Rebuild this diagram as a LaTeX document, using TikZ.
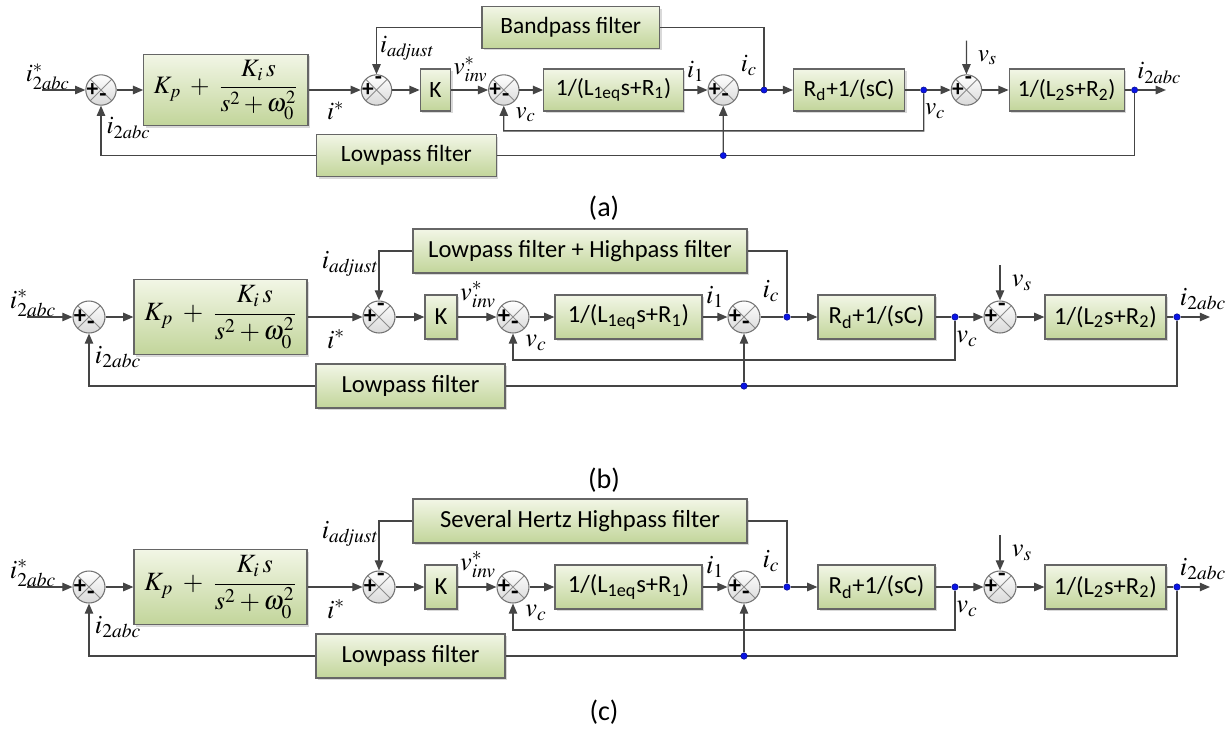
\documentclass[tikz,border=0pt]{standalone}
\usepackage{mathptmx}
\usepackage[no-math]{fontspec}
\setmainfont{Carlito}
\usetikzlibrary{arrows.meta,shadows}

\definecolor{wirec}{HTML}{454545}
\definecolor{boxtop}{HTML}{F2F6E6}
\definecolor{boxbot}{HTML}{C2D59A}
\definecolor{dotc}{HTML}{0A14E6}

\tikzset{
  wire/.style={draw=wirec, line width=0.75pt},
  sig/.style={wire, -{Triangle[length=5.8pt,width=4.8pt]}},
  blk/.style={draw=black!60, line width=0.7pt, top color=boxtop, bottom color=boxbot,
    inner sep=0pt, minimum height=0.88cm, font=\fontsize{14}{16}\selectfont,
    drop shadow={shadow xshift=1.2pt, shadow yshift=-1.2pt, opacity=0.3}},
  sgn/.style={font=\bfseries\fontsize{14}{14}\selectfont, inner sep=0pt},
  sumj/.style={circle, draw=black!55, line width=0.6pt, top color=white, bottom color=black!15,
    minimum size=0.64cm, inner sep=0pt,
    path picture={
      \draw[black!45, line width=0.5pt]
        (path picture bounding box.north west) -- (path picture bounding box.south east)
        (path picture bounding box.north east) -- (path picture bounding box.south west);
      \node[sgn] at ([xshift=-0.18cm]path picture bounding box.center) {+};
      \node[sgn] at ([xshift=0.04cm,yshift=#1]path picture bounding box.center) {-};
    }},
  jdot/.style={circle, fill=dotc, draw=dotc!60!black, line width=0.3pt,
    minimum size=0.13cm, inner sep=0pt},
  lbl/.style={font=\fontsize{15}{18}\selectfont, inner sep=0pt},
  capt/.style={font=\fontsize{16}{19}\selectfont, inner sep=0pt}
}

% one current loop: prefix, filter x, filter width, filter text, i_adjust label position
\newcommand{\regloop}[5]{%
  % forward path
  \coordinate (#1in) at (27,0);
  \node[sumj=-0.16cm] (#1s1) at (89,0) {};
  \node[blk, minimum width=3.46cm, minimum height=1.5cm, font=\fontsize{15}{18}\selectfont] (#1pr) at (220.5,0)
    {$\displaystyle K_{p}\;+\;\frac{K_{i}\,s}{s^{2}+\omega_{0}^{2}}$};
  \node[sumj=0.2cm] (#1s2) at (379,0) {};
  \node[blk, minimum width=0.64cm] (#1k) at (441,0) {K};
  \node[sumj=-0.16cm] (#1s3) at (513,0) {};
  \node[blk, minimum width=2.94cm] (#1g1) at (628.5,0) {1/(L\textsubscript{1eq}s+R\textsubscript{1})};
  \node[sumj=-0.16cm] (#1s4) at (744,0) {};
  \node[jdot] (#1ic) at (787,0) {};
  \node[blk, minimum width=2.34cm] (#1rd) at (876.5,0) {R\textsubscript{d}+1/(sC)};
  \node[jdot] (#1vc) at (955,0) {};
  \node[sumj=0.2cm] (#1s5) at (1000,0) {};
  \coordinate (#1vs) at (1000,-52);
  \node[blk, minimum width=2.42cm] (#1g2) at (1105.5,0) {1/(L\textsubscript{2}s+R\textsubscript{2})};
  \node[jdot] (#1io) at (1177,0) {};
  \coordinate (#1out) at (1210,0);
  % feedback blocks
  \node[blk, minimum width=#3] (#1hf) at (#2,-66) {#4};
  \node[blk, minimum width=3.78cm] (#1lp) at (410.5,69) {Lowpass filter};
  \coordinate (#1vcd) at (955,43);
  % connectors
  \draw[sig] (#1in) -- (#1s1);
  \draw[sig] (#1s1) -- (#1pr);
  \draw[sig] (#1pr) -- (#1s2);
  \draw[sig] (#1s2) -- (#1k);
  \draw[sig] (#1k) -- (#1s3);
  \draw[sig] (#1s3) -- (#1g1);
  \draw[sig] (#1g1) -- (#1s4);
  \draw[wire] (#1s4) -- (#1ic);
  \draw[sig] (#1ic) -- (#1rd);
  \draw[wire] (#1rd) -- (#1vc);
  \draw[sig] (#1vc) -- (#1s5);
  \draw[sig] (#1vs) -- (#1s5);
  \draw[sig] (#1s5) -- (#1g2);
  \draw[wire] (#1g2) -- (#1io);
  \draw[sig] (#1io) -- (#1out);
  \draw[wire] (#1ic) |- (#1hf);
  \draw[sig] (#1hf) -| (#1s2);
  \draw[sig] (#1vc) -- (#1vcd) -| (#1s3);
  \draw[wire] (#1io) |- (#1lp);
  \draw[sig] (#1lp) -| (#1s1);
  \node[jdot] (#1jn) at (744,69) {};
  \draw[sig] (#1jn) -- (#1s4);
  % signals
  \node[lbl] (#1lref) at (33,-14) {$i^{*}_{2abc}$};
  \node[lbl] (#1lfb) at (118,40) {$i_{2abc}$};
  \node[lbl] (#1lis) at (336,22) {$i^{*}$};
  \node[lbl] (#1ladj) at (#5) {$i_{\mathit{adjust}}$};
  \node[lbl] (#1linv) at (478,-22) {$v^{*}_{\mathit{inv}}$};
  \node[lbl] (#1lvca) at (536,26) {$v_{c}$};
  \node[lbl] (#1li1) at (715,-20) {$i_{1}$};
  \node[lbl] (#1lic) at (771,-26) {$i_{c}$};
  \node[lbl] (#1lvcb) at (967,22) {$v_{c}$};
  \node[lbl] (#1lvs) at (1022,-34) {$v_{s}$};
  \node[lbl] (#1lout) at (1203,-18) {$i_{2abc}$};
}

\begin{document}
\begin{tikzpicture}[x=0.02cm, y=-0.02cm]
  \useasboundingbox (0,0) rectangle (1228,728);
  % (a) bandpass filter
  \begin{scope}[shift={(16.45,90)}, scale=0.95, transform shape]
    \regloop{a}{583.5}{3.74cm}{Bandpass filter}{411,-44}
  \end{scope}
  \node[capt] (capa) at (604,208) {(a)};
  % (b) lowpass + highpass
  \begin{scope}[shift={(0,317)}]
    \regloop{b}{580}{6.68cm}{Lowpass filter + Highpass filter}{350,-53}
  \end{scope}
  \node[capt] (capb) at (604,480) {(b)};
  % (c) several hertz highpass
  \begin{scope}[shift={(0,587)}]
    \regloop{c}{580}{6.68cm}{Several Hertz Highpass filter}{350,-53}
  \end{scope}
  \node[capt] (capc) at (604,712) {(c)};
\end{tikzpicture}
\end{document}
